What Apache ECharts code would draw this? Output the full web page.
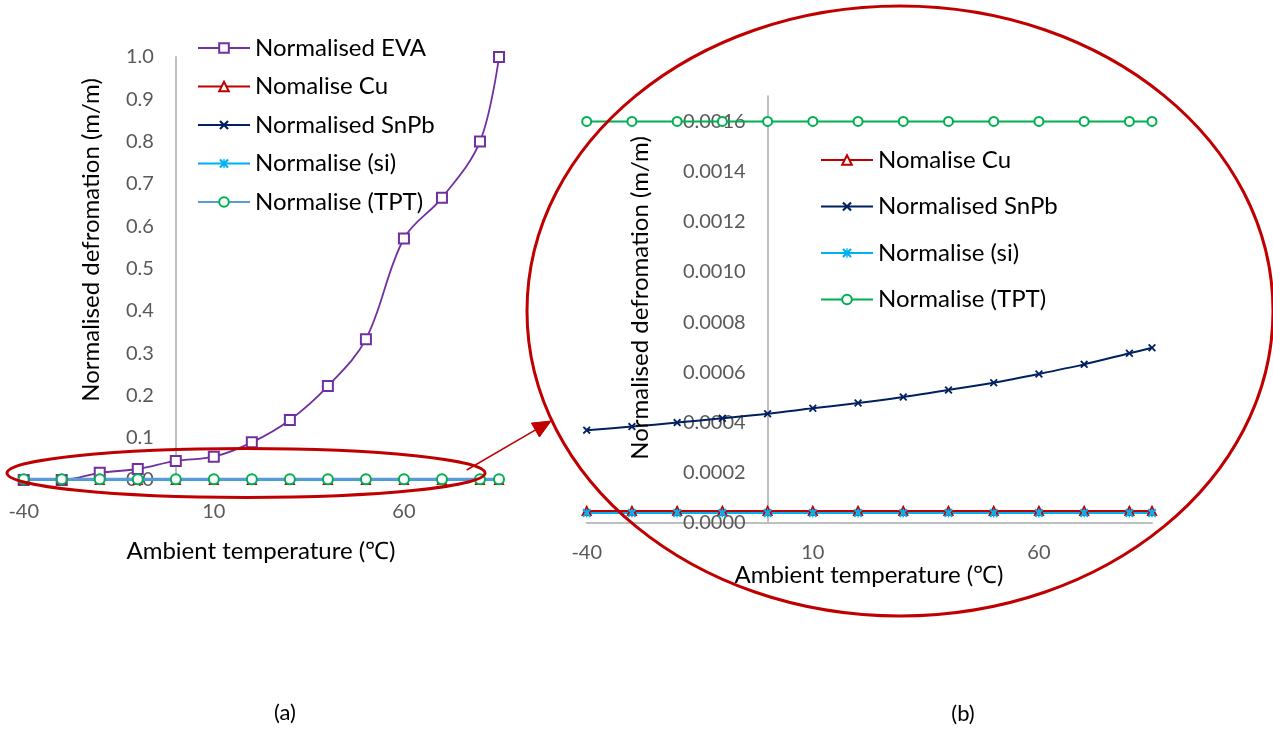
<!DOCTYPE html>
<html><head><meta charset="utf-8">
<script src="https://cdn.jsdelivr.net/npm/echarts@6/dist/echarts.min.js"></script>
<style>html,body{margin:0;padding:0;background:#fff}#c{width:1273px;height:734px}</style>
</head><body><div id="c"></div>
<script>
// ---- data ----
const temps = [-40, -30, -20, -10, 0, 10, 20, 30, 40, 50, 60, 70, 80, 85];
const eva  = [0, 0, 0.017, 0.026, 0.045, 0.055, 0.089, 0.142, 0.222, 0.333, 0.571, 0.667, 0.8, 1.0];
const cu   = [0.000048, 0.000048, 0.000048, 0.000048, 0.000048, 0.000048, 0.000048, 0.000048, 0.000048, 0.000048, 0.000048, 0.000048, 0.000048, 0.000048];
const snpb = [0.00037, 0.000384, 0.0004, 0.000417, 0.000435, 0.000457, 0.000478, 0.000502, 0.00053, 0.000559, 0.000594, 0.000632, 0.000676, 0.000698];
const si   = [0.00004, 0.00004, 0.00004, 0.00004, 0.00004, 0.00004, 0.00004, 0.00004, 0.00004, 0.00004, 0.00004, 0.00004, 0.00004, 0.00004];
const tpt  = [0.0016, 0.0016, 0.0016, 0.0016, 0.0016, 0.0016, 0.0016, 0.0016, 0.0016, 0.0016, 0.0016, 0.0016, 0.0016, 0.0016];
const xTickLabels = [-40, 10, 60];
const namesA = ['Normalised EVA', 'Nomalise Cu', 'Normalised SnPb', 'Normalise (si)', 'Normalise (TPT)'];
const namesB = ['Nomalise Cu ', 'Normalised SnPb ', 'Normalise (si) ', 'Normalise (TPT) '];
const xTitle = 'Ambient temperature (℃)';
const yTitle = 'Normalised defromation (m/m)';

const FONT = 'Lato, "Open Sans", sans-serif';
const X_SYM = 'path://M0,1.6L1.6,0L5,3.4L8.4,0L10,1.6L6.6,5L10,8.4L8.4,10L5,6.6L1.6,10L0,8.4L3.4,5Z';
const STAR_SYM = 'path://M0,1.6L1.6,0L5,3.4L8.4,0L10,1.6L6.6,5L10,8.4L8.4,10L5,6.6L1.6,10L0,8.4L3.4,5Z M4.3,0L5.7,0L5.7,10L4.3,10Z';

const X_MIN = -40, X_MAX = 85;
const grids = [
  { left: 23.7, top: 57, width: 475.3, height: 423 },
  { left: 586.7, top: 96.3, width: 565.3, height: 426.7 }
];
// y axis crosses the x axis at 0 °C: shift it right from the grid's left edge
const yOffset = g => -((0 - X_MIN) / (X_MAX - X_MIN)) * grids[g].width;

const pairs = arr => temps.map((t, i) => [t, arr[i]]);

function ser(name, arr, g, sym, size, color, lineColor, lw, smooth, bw) {
  return {
    type: 'line', name: name, xAxisIndex: g, yAxisIndex: g,
    data: pairs(arr), symbol: sym, symbolSize: size, showSymbol: true,
    smooth: smooth || false,
    lineStyle: { color: lineColor, width: lw },
    itemStyle: { color: color, borderColor: color, borderWidth: bw || 0 },
    emphasis: { disabled: true }, animation: false
  };
}

const chart = echarts.init(document.getElementById('c'), null, { renderer: 'canvas' });

const axisLineStyle = { color: '#BFBFBF', width: 2 };
const tickLblStyle = { color: '#595959', fontSize: 20, fontFamily: FONT };

const xAxisCommon = (g, margin) => ({
  type: 'value', gridIndex: g, min: X_MIN, max: X_MAX, interval: 50,
  axisLine: { show: true, onZero: false, lineStyle: axisLineStyle },
  axisTick: { show: false }, splitLine: { show: false },
  axisLabel: Object.assign({ margin: margin, showMaxLabel: false,
    formatter: v => (xTickLabels.indexOf(v) >= 0 ? String(v) : '') }, tickLblStyle)
});

const option = {
  backgroundColor: '#ffffff',
  animation: false,
  grid: grids.map(g => Object.assign({ containLabel: false, outerBoundsMode: 'none' }, g)),
  xAxis: [ xAxisCommon(0, 22), xAxisCommon(1, 20) ],
  yAxis: [
    { type: 'value', gridIndex: 0, min: 0, max: 1, interval: 0.1, position: 'left', offset: yOffset(0),
      axisLine: { show: true, onZero: false, lineStyle: axisLineStyle },
      axisTick: { show: false }, splitLine: { show: false },
      axisLabel: Object.assign({ margin: 22, formatter: v => v.toFixed(1) }, tickLblStyle) },
    { type: 'value', gridIndex: 1, min: 0, max: 0.0017, interval: 0.0002, position: 'left', offset: yOffset(1),
      axisLine: { show: true, onZero: false, lineStyle: axisLineStyle },
      axisTick: { show: false }, splitLine: { show: false },
      axisLabel: Object.assign({ margin: 22, showMaxLabel: false, formatter: v => v.toFixed(4) }, tickLblStyle) }
  ],
  legend: [
    { data: namesA, orient: 'vertical', left: 197, top: 36, padding: 0,
      itemWidth: 52, itemHeight: 12, itemGap: 14.5, selectedMode: false,
      textStyle: { fontSize: 24, color: '#000', fontFamily: FONT } },
    { data: namesB, orient: 'vertical', left: 820, top: 148, padding: 0,
      itemWidth: 52, itemHeight: 12, itemGap: 22.5, selectedMode: false,
      textStyle: { fontSize: 24, color: '#000', fontFamily: FONT } }
  ],
  series: [
    ser(namesA[0], eva, 0, 'emptyRect', 10, '#7030A0', '#7030A0', 1.8, 0.35, 1.5),
    ser(namesA[1], cu, 0, 'emptyTriangle', 8, '#C00000', '#C00000', 2, false, 1.5),
    ser(namesA[2], snpb, 0, X_SYM, 8, '#002060', '#002060', 2, false),
    ser(namesA[3], si, 0, STAR_SYM, 9, '#00B0F0', '#00B0F0', 2, false),
    ser(namesA[4], tpt, 0, 'emptyCircle', 10, '#00B050', '#5B9BD5', 3, false, 2.2),
    ser(namesB[0], cu, 1, 'emptyTriangle', 8, '#C00000', '#C00000', 2, false, 1.5),
    ser(namesB[1], snpb, 1, X_SYM, 8, '#002060', '#002060', 2, 0.3),
    ser(namesB[2], si, 1, STAR_SYM, 9, '#00B0F0', '#00B0F0', 2, false),
    ser(namesB[3], tpt, 1, 'emptyCircle', 9, '#00B050', '#00B050', 2, false, 1.6)
  ],
  graphic: [
    { type: 'text', x: 91, y: 240, rotation: Math.PI / 2, z: 10,
      style: { text: yTitle, fontSize: 24, fontFamily: FONT, fill: '#000', align: 'center', verticalAlign: 'middle' } },
    { type: 'text', x: 261, y: 551, z: 10,
      style: { text: xTitle, fontSize: 24, fontFamily: FONT, fill: '#000', align: 'center', verticalAlign: 'middle' } },
    { type: 'text', x: 640, y: 298, rotation: Math.PI / 2, z: 10,
      style: { text: yTitle, fontSize: 24, fontFamily: FONT, fill: '#000', align: 'center', verticalAlign: 'middle' } },
    { type: 'text', x: 869, y: 575, z: 10,
      style: { text: xTitle, fontSize: 24, fontFamily: FONT, fill: '#000', align: 'center', verticalAlign: 'middle' } },
    { type: 'text', x: 285, y: 713, z: 10,
      style: { text: '(a)', fontSize: 22, fontFamily: FONT, fill: '#000', align: 'center', verticalAlign: 'middle' } },
    { type: 'text', x: 963, y: 714, z: 10,
      style: { text: '(b)', fontSize: 22, fontFamily: FONT, fill: '#000', align: 'center', verticalAlign: 'middle' } },
    { type: 'ellipse', z: 20, shape: { cx: 246, cy: 473, rx: 239, ry: 24.5 },
      style: { fill: 'none', stroke: '#C00000', lineWidth: 3 } },
    { type: 'ellipse', z: 20, shape: { cx: 900, cy: 311, rx: 373, ry: 305 },
      style: { fill: 'none', stroke: '#C00000', lineWidth: 3 } },
    { type: 'line', z: 20, shape: { x1: 466.7, y1: 470, x2: 536, y2: 429.7 },
      style: { stroke: '#C00000', lineWidth: 1.5 } },
    { type: 'polygon', z: 20, shape: { points: [[551, 421], [539.4, 437], [531.4, 423.1]] },
      style: { fill: '#C00000', stroke: '#C00000', lineWidth: 1 } }
  ]
};
chart.setOption(option);
</script>
</body></html>
